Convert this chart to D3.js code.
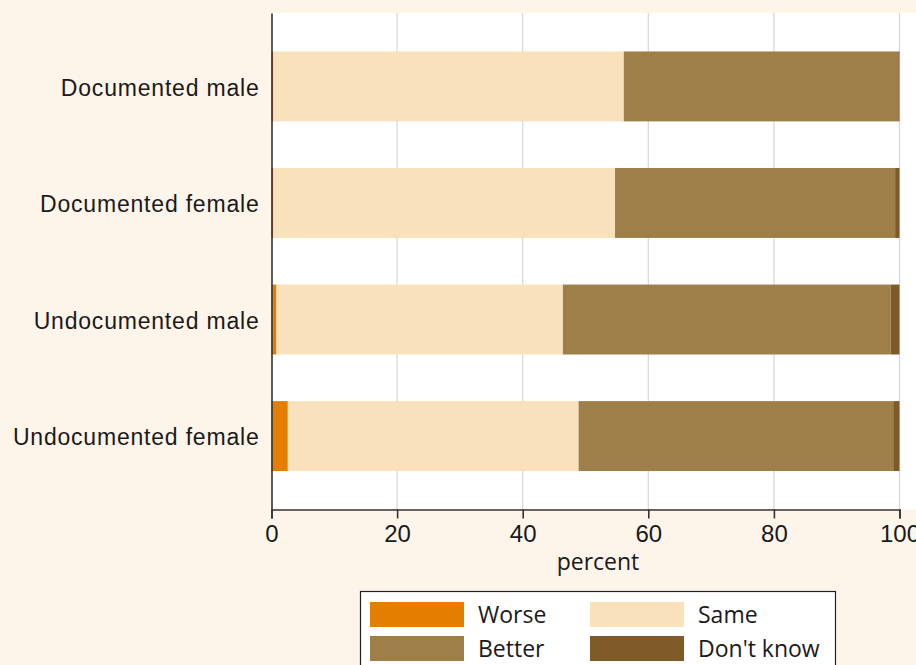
<!DOCTYPE html>
<html>
<head>
<meta charset="utf-8">
<script src="https://cdn.jsdelivr.net/npm/d3@7"></script>
<style>
  body { margin: 0; background: #fdf5ea; }
  svg { display: block; font-family: "Open Sans", Lato, sans-serif; }
</style>
</head>
<body>
<script>
// groups top to bottom
var groups = ["Documented male", "Documented female", "Undocumented male", "Undocumented female"];
var answers = ["Worse", "Same", "Better", "Don't know"];
var colors = ["#e37e00", "#f9e1bb", "#9e7f48", "#7f5a28"];

// percent per answer, one array per answer, in group order
var worse = [0.3, 0.3, 0.8, 2.6];
var same = [55.8, 54.4, 45.6, 46.3];
var better = [43.7, 44.6, 52.2, 50.1];
var dontKnow = [0.2, 0.7, 1.4, 1.0];

var xTicks = [0, 20, 40, 60, 80, 100];

var width = 916, height = 665;
var plotLeft = 271.5, plotRight = 899.5, plotTop = 13, plotBottom = 509.5;

var rows = groups.map(function(g, i){
  return {group: g, "Worse": worse[i], "Same": same[i], "Better": better[i], "Don't know": dontKnow[i]};
});

var svg = d3.select("body").append("svg")
  .attr("width", width)
  .attr("height", height);

svg.append("rect")
  .attr("x", 0).attr("y", 0).attr("width", width).attr("height", height)
  .attr("fill", "#fdf5ea");

// plot area
svg.append("rect")
  .attr("x", plotLeft).attr("y", plotTop)
  .attr("width", width - plotLeft).attr("height", plotBottom - plotTop)
  .attr("fill", "#ffffff");

var x = d3.scaleLinear().domain([0, 100]).range([plotLeft, plotRight]);
var y = d3.scaleBand().domain(groups).range([plotTop, plotBottom])
  .paddingInner(0.4).paddingOuter(0.33);

// grid
svg.append("g").selectAll("line")
  .data(xTicks.slice(1))
  .enter().append("line")
  .attr("x1", function(d){ return x(d); })
  .attr("x2", function(d){ return x(d); })
  .attr("y1", plotTop).attr("y2", plotBottom)
  .attr("stroke", "#d6d6d6")
  .attr("stroke-width", 1.2);

var series = d3.stack().keys(answers)(rows);

svg.append("g").selectAll("g")
  .data(series)
  .enter().append("g")
  .attr("fill", function(d, i){ return colors[i]; })
  .selectAll("rect")
  .data(function(d){ return d; })
  .enter().append("rect")
  .attr("x", function(d){ return x(d[0]); })
  .attr("width", function(d){ return x(d[1]) - x(d[0]); })
  .attr("y", function(d){ return y(d.data.group); })
  .attr("height", y.bandwidth());

// x axis
var xAxis = svg.append("g")
  .attr("transform", "translate(0," + plotBottom + ")")
  .call(d3.axisBottom(x).tickValues(xTicks).tickSize(9).tickPadding(7));
xAxis.select(".domain").attr("stroke", "#333").attr("stroke-width", 1.6);
xAxis.selectAll(".tick line").attr("stroke", "#333").attr("stroke-width", 1.6);
xAxis.selectAll("text")
  .attr("fill", "#1a1a1a")
  .style("font-size", "24px")
  .attr("dy", "0.68em");

// y axis
var yAxis = svg.append("g")
  .attr("transform", "translate(" + plotLeft + ",0)")
  .call(d3.axisLeft(y).tickSize(0).tickPadding(12));
yAxis.select(".domain").attr("stroke", "#333").attr("stroke-width", 1.6);
yAxis.selectAll("text")
  .attr("fill", "#1a1a1a")
  .attr("dy", "0.4em")
  .style("font-size", "23px")
  .style("letter-spacing", "0.8px");

svg.append("text")
  .attr("x", 598).attr("y", 570)
  .attr("text-anchor", "middle")
  .attr("fill", "#1a1a1a")
  .style("font-size", "23px")
  .text("percent");

// legend
var legend = svg.append("g");
legend.append("rect")
  .attr("x", 360.5).attr("y", 591.5)
  .attr("width", 475).attr("height", 90)
  .attr("fill", "#ffffff")
  .attr("stroke", "#222")
  .attr("stroke-width", 1.2);

var item = legend.selectAll("g.item")
  .data(answers)
  .enter().append("g")
  .attr("class", "item")
  .attr("transform", function(d, i){
    return "translate(" + (370 + (i % 2) * 220) + "," + (602 + Math.floor(i / 2) * 34) + ")";
  });
item.append("rect")
  .attr("width", 94).attr("height", 25)
  .attr("fill", function(d, i){ return colors[i]; });
item.append("text")
  .attr("x", 108).attr("y", 21)
  .attr("fill", "#1a1a1a")
  .style("font-size", "23px")
  .text(function(d){ return d; });
</script>
</body>
</html>
